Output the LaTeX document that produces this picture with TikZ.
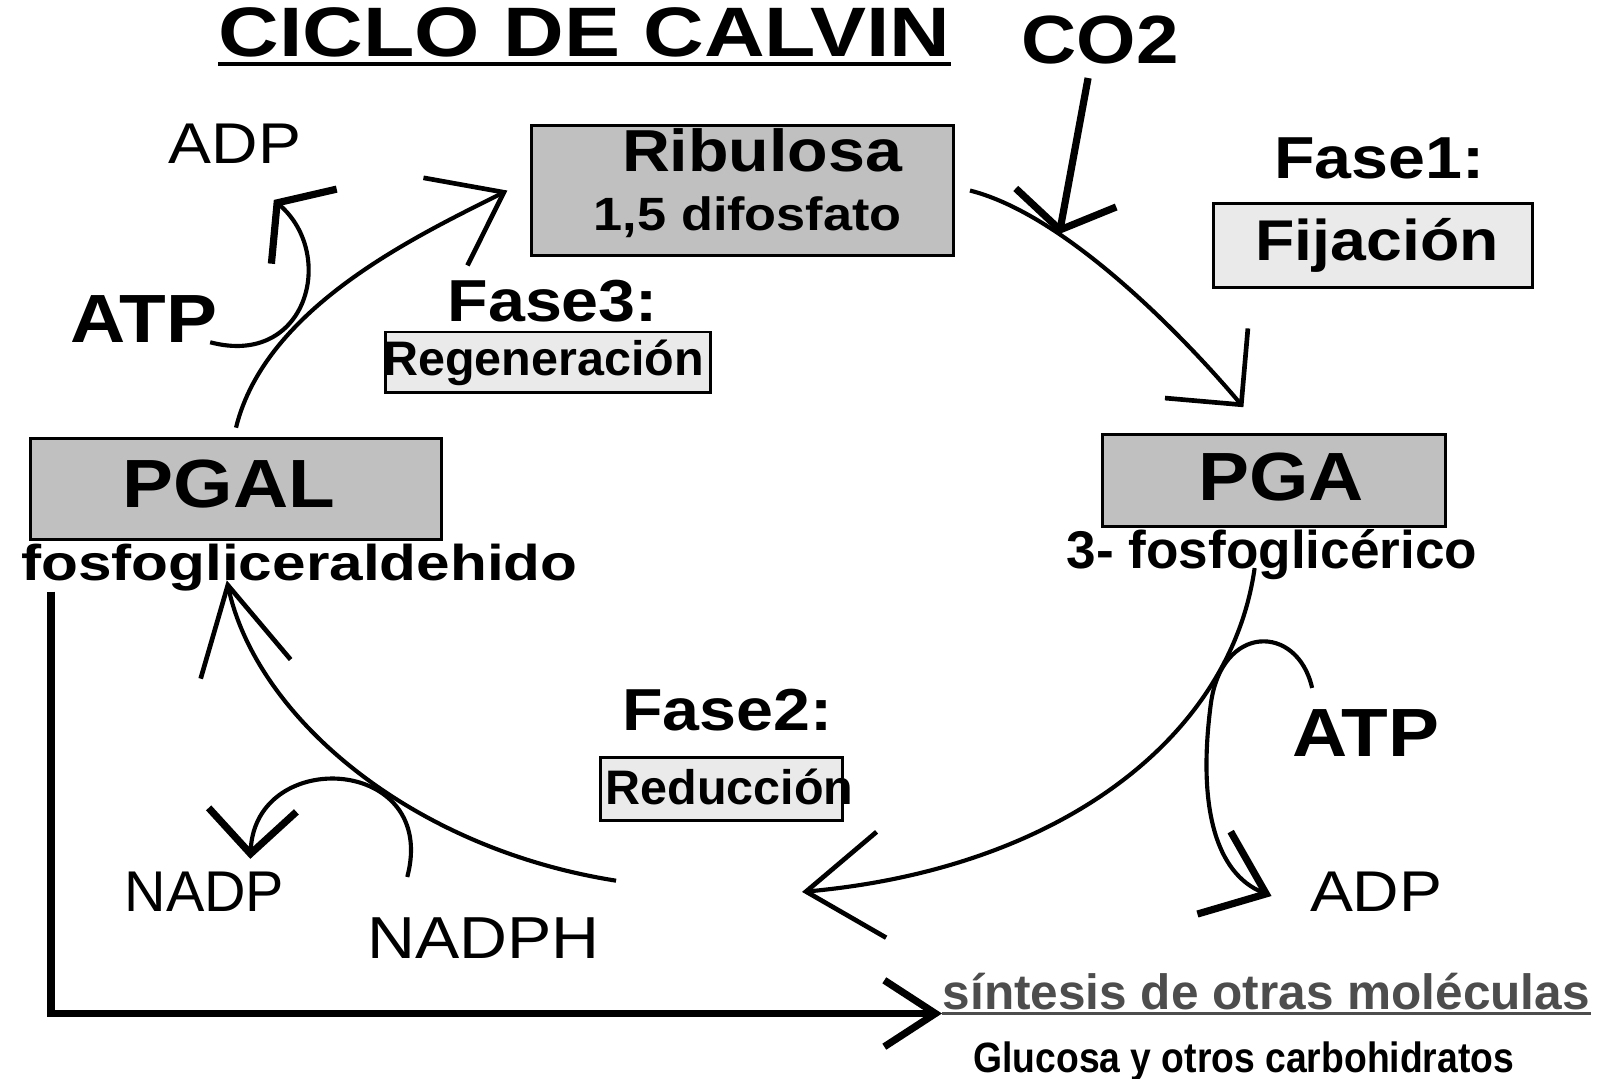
\documentclass[tikz,border=0pt]{standalone}
\usepackage{fontspec}
\setmainfont{Liberation Sans}
\newfontfamily\wide[FakeStretch=1.12]{Liberation Sans}
\newfontfamily\xwide[FakeStretch=1.2]{Liberation Sans}
\newfontfamily\narrow[FakeStretch=0.88]{Liberation Sans}
\newcommand{\sz}[1]{\fontsize{#1}{#1}\selectfont}
\usetikzlibrary{arrows.meta}
\definecolor{boxgray}{HTML}{C0C0C0}
\definecolor{phasegray}{HTML}{EAEAEA}
\definecolor{textgray}{HTML}{4D4D4D}

\begin{document}
\begin{tikzpicture}[x=0.1mm,y=-0.1mm,
  box/.style={draw,line width=0.8pt,fill=boxgray,inner sep=0},
  phase/.style={draw,line width=0.8pt,fill=phasegray,inner sep=0},
  lbl/.style={anchor=base,inner sep=0},
  cycle/.style={line width=1.15pt},
  thickline/.style={line width=2pt}]
\useasboundingbox (0,0) rectangle (1568,1056);

% title
\node[lbl,font=\xwide\bfseries\sz{19.5}] (title) at (572,55) {CICLO DE CALVIN};
\draw[line width=1.1pt] ([yshift=-0.8mm]title.base west) -- ([yshift=-0.8mm]title.base east);
\node[lbl,font=\wide\bfseries\sz{19}] (co2) at (1077,62) {CO2};

% boxes
\node[box,minimum width=41.3mm,minimum height=12.7mm] (rib) at (726.5,186.5) {};
\node[lbl,font=\wide\bfseries\sz{16.5}] (ribA) at (746,168) {Ribulosa};
\node[lbl,font=\wide\bfseries\sz{13}] (ribB) at (732,226) {1,5 difosfato};

\node[box,minimum width=33.6mm,minimum height=9mm] (pga) at (1247,470) {};
\node[lbl,font=\wide\bfseries\sz{19}] (pgaT) at (1254,490) {PGA};
\node[lbl,font=\bfseries\sz{14.8}] (pgaS) at (1245,556) {3- fosfoglicérico};

\node[box,minimum width=40.2mm,minimum height=9.9mm] (pgal) at (231,478.5) {};
\node[lbl,font=\wide\bfseries\sz{19}] (pgalT) at (224,497) {PGAL};
\node[lbl,font=\xwide\bfseries\sz{14}] (pgalS) at (293,568) {fosfogliceraldehido};

% phases
\node[lbl,font=\wide\bfseries\sz{16.5}] (fase1) at (1350,175) {Fase1:};
\node[phase,minimum width=31.2mm,minimum height=8.2mm] (fij) at (1344,240) {};
\node[lbl,font=\wide\bfseries\sz{16}] (fijT) at (1348,255) {Fijación};

\node[lbl,font=\wide\bfseries\sz{16.5}] (fase2) at (712,715) {Fase2:};
\node[phase,minimum width=23.7mm,minimum height=6.2mm] (red) at (706.5,772) {};
\node[lbl,font=\bfseries\sz{13.5}] (redT) at (714,787) {Reducción};

\node[lbl,font=\wide\bfseries\sz{16.5}] (fase3) at (541,315) {Fase3:};
\node[phase,minimum width=31.8mm,minimum height=5.9mm] (regen) at (536,354.5) {};
\node[lbl,font=\bfseries\sz{13.5}] (regenT) at (532,368) {Regeneración};

% ATP, ADP, NADP
\node[lbl,font=\wide\sz{16}] (adpL) at (230,160) {ADP};
\node[lbl,font=\wide\bfseries\sz{19}] (atpL) at (141,335) {ATP};
\node[lbl,font=\sz{16}] (nadp) at (200,892) {NADP};
\node[lbl,font=\wide\sz{16.5}] (nadph) at (473,938) {NADPH};
\node[lbl,font=\wide\bfseries\sz{19}] (atpR) at (1337,740) {ATP};
\node[lbl,font=\wide\sz{16}] (adpR) at (1347,892) {ADP};

% products
\node[anchor=base west,inner sep=0,font=\bfseries\sz{13.8},text=textgray] (sint) at (922,988) {síntesis de otras moléculas};
\draw[textgray,line width=0.6pt] ([yshift=-0.4mm]sint.base west) -- ([yshift=-0.4mm]sint.base east);
\node[anchor=base west,inner sep=0,font=\narrow\bfseries\sz{11.8}] (gluc) at (952,1050) {Glucosa y otros carbohidratos};

\coordinate (toRed) at (785,873);
\coordinate (fromRed) at (603,862);
\coordinate (corner) at (50,992);

% cycle
\draw[cycle,-{Straight Barb[length=5.3mm,width=10.6mm,line width=1.3pt]}] ([xshift=1.5mm]rib.east) .. controls (1050,212) and (1172,345) .. ([xshift=-3mm,yshift=2.5mm]pga.north) coordinate[pos=0.28] (fix);
\draw[thickline,-{Straight Barb[length=3.2mm,width=10mm,line width=2pt]}] ([xshift=-1.2mm,yshift=-1.3mm]co2.south) -- (fix);
\draw[cycle,-{Straight Barb[length=7.4mm,width=10.4mm,line width=1.3pt]}] ([xshift=-1.7mm]pgaS.base) .. controls (1205,720) and (1040,850) .. (toRed);
\draw[cycle,-{Straight Barb[length=8.4mm,width=9mm,line width=1.3pt]}] (fromRed) .. controls (400,830) and (250,700) .. ([xshift=-7.1mm]pgalS.base);
\draw[cycle,-{Straight Barb[length=6.4mm,width=9.6mm,line width=1.3pt]}] ([yshift=0.9mm]pgal.north) .. controls (260,300) and (410,230) .. ([xshift=-2.2mm]rib.west);

% side reactions
\draw[cycle,-{Straight Barb[length=3.5mm,width=9.7mm,line width=2pt]}] ([xshift=-0.8mm]atpL.base east) .. controls (300,360) and (330,250) .. ([xshift=3.8mm,yshift=-3.5mm]adpL.south);
\draw[cycle,-{Straight Barb[length=5.5mm,width=8.7mm,line width=2pt]}] ([xshift=2mm,yshift=2mm]atpR.north west) .. controls (1270,610) and (1195,610) .. (1185,690) .. controls (1172,790) and (1190,855) .. ([xshift=-3.7mm,yshift=1.5mm]adpR.base west);
\draw[cycle,-{Straight Barb[length=4.3mm,width=8.6mm,line width=2pt]}] ([xshift=4mm,yshift=3.9mm]nadph.north west) .. controls (430,740) and (250,730) .. ([xshift=4.5mm,yshift=1.2mm]nadp.north);

% output
\draw[thickline,-{Straight Barb[length=5mm,width=6.5mm,line width=2pt]}] (corner |- pgalS.south) -- (corner) -- (corner -| sint.base west);
\end{tikzpicture}
\end{document}
